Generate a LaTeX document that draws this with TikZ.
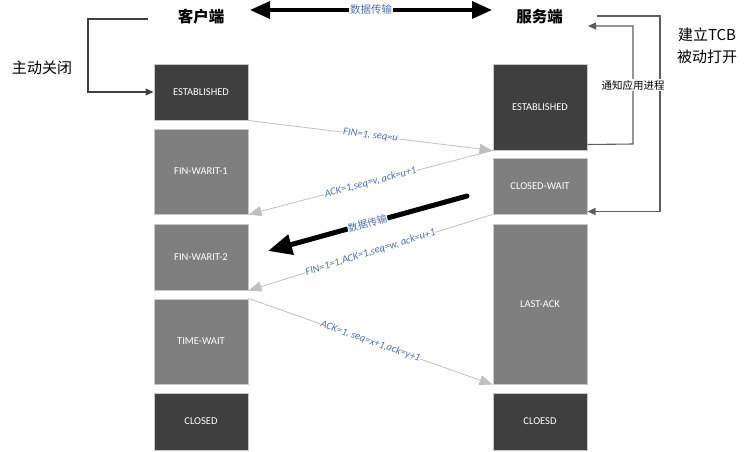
\documentclass[tikz,border=0pt]{standalone}
\usepackage{fontspec}
\setmainfont{Carlito}
\newfontfamily\cjk{Noto Sans CJK SC}
\usetikzlibrary{arrows.meta}
\definecolor{dbox}{HTML}{3F3F3F}
\definecolor{gbox}{HTML}{7F7F7F}
\definecolor{boxline}{HTML}{C8C8C8}
\definecolor{msgline}{HTML}{BFBFBF}
\definecolor{lab}{HTML}{4A6FB8}
\definecolor{brk}{HTML}{404040}
\begin{document}
\begin{tikzpicture}[x=1pt,y=-1pt,
  stbox/.style={draw=boxline, line width=1pt, text=white, minimum width=94pt, inner sep=0pt,
    font=\fontsize{10.5}{12}\selectfont},
  msg/.style={draw=msgline, line width=0.8pt, -{Triangle[length=13pt,width=10pt,fill=msgline]}},
  mlab/.style={sloped, fill=white, inner sep=0.5pt, text=lab, font=\fontsize{10.5}{12}\selectfont\itshape},
  brkline/.style={draw=brk, line width=1.1pt, -{Triangle[length=8pt,width=7pt]}},
  title/.style={font=\cjk\bfseries\fontsize{15.5}{17}\selectfont},
  side/.style={font=\cjk\fontsize{15}{17}\selectfont}
]
\useasboundingbox (0,0) rectangle (751,451);

% titles
\node[title] (cT) at (201,17) {客户端};
\node[title] (sT) at (539.5,17) {服务端};
\node[side] (act) at (42,68) {主动关闭};
\node[side] (tcb1) at (707,35) {建立TCB};
\node[side] (tcb2) at (707,57) {被动打开};

% client boxes
\node[stbox, fill=dbox, minimum height=56pt] (cE)  at (201,92)    {ESTABLISHED};
\node[stbox, fill=gbox, minimum height=85pt] (cF1) at (201,171.5) {FIN-WARIT-1};
\node[stbox, fill=gbox, minimum height=66pt] (cF2) at (201,257)   {FIN-WARIT-2};
\node[stbox, fill=gbox, minimum height=85pt] (cTW) at (201,341.5) {TIME-WAIT};
\node[stbox, fill=dbox, minimum height=57pt] (cC)  at (201,421.5) {CLOSED};

% server boxes
\node[stbox, fill=dbox, minimum height=86pt]  (sE)  at (540,107)   {ESTABLISHED};
\node[stbox, fill=gbox, minimum height=56pt]  (sCW) at (540,186)   {CLOSED-WAIT};
\node[stbox, fill=gbox, minimum height=160pt] (sLA) at (540,304)   {LAST-ACK};
\node[stbox, fill=dbox, minimum height=57pt]  (sC)  at (540,421.5) {CLOESD};

% top data transfer arrow
\coordinate (t1) at (250,10);
\coordinate (t2) at (492,10);
\draw[line width=3.5pt, {Triangle[length=20pt,width=17pt]}-{Triangle[length=20pt,width=17pt]}]
  (t1) -- node[fill=white, inner sep=1pt, text=lab, font=\cjk\fontsize{10.5}{11}\selectfont] (tl) {数据传输} (t2);

% left bracket
\coordinate (lb) at (148,19);
\draw[brkline] (lb) -- ++(-60,0) |- (cE.west);

% right brackets
\coordinate (ro) at (597,16);
\coordinate (rok) at (660,16);
\draw[brkline, draw=brk!85] (ro) -- (rok) |- ([yshift=3pt]sCW.south east);
\coordinate (ri1) at (633,144);
\coordinate (ri2) at (633,26);
\coordinate (ni) at (588,26);
\draw[brkline, draw=brk!85] ([yshift=6pt]sE.south east) -- (ri1)
  -- node[fill=white, inner sep=1pt, text=black, font=\cjk\fontsize{10.5}{12}\selectfont] (ntf) {通知应用进程} (ri2) -- (ni);

% messages
\draw[msg] (cE.south east) -- node[mlab] (m1) {FIN=1, seq=u} (sE.south west);
\draw[msg] (sE.south west) -- node[mlab] (m2) {ACK=1,seq=v, ack=u+1} (cF1.south east);
\draw[msg] (sCW.south west) -- node[mlab] (m3) {FIN=1=1,ACK=1,seq=w, ack=u+1} (cF2.south east);
\draw[msg] (cTW.north east) -- node[mlab] (m4) {ACK=1, seq=x+1,ack=y+1} (sLA.south west);

% thick data transfer arrow
\coordinate (d1) at (467,196);
\coordinate (d2) at (268,251);
\draw[line width=5pt, line cap=round, -{Triangle[length=24pt,width=20pt]}]
  (d1) -- node[sloped, fill=white, inner sep=0.5pt, text=lab, font=\cjk\fontsize{10}{12}\selectfont] (dl) {数据传输} (d2);
\end{tikzpicture}
\end{document}
